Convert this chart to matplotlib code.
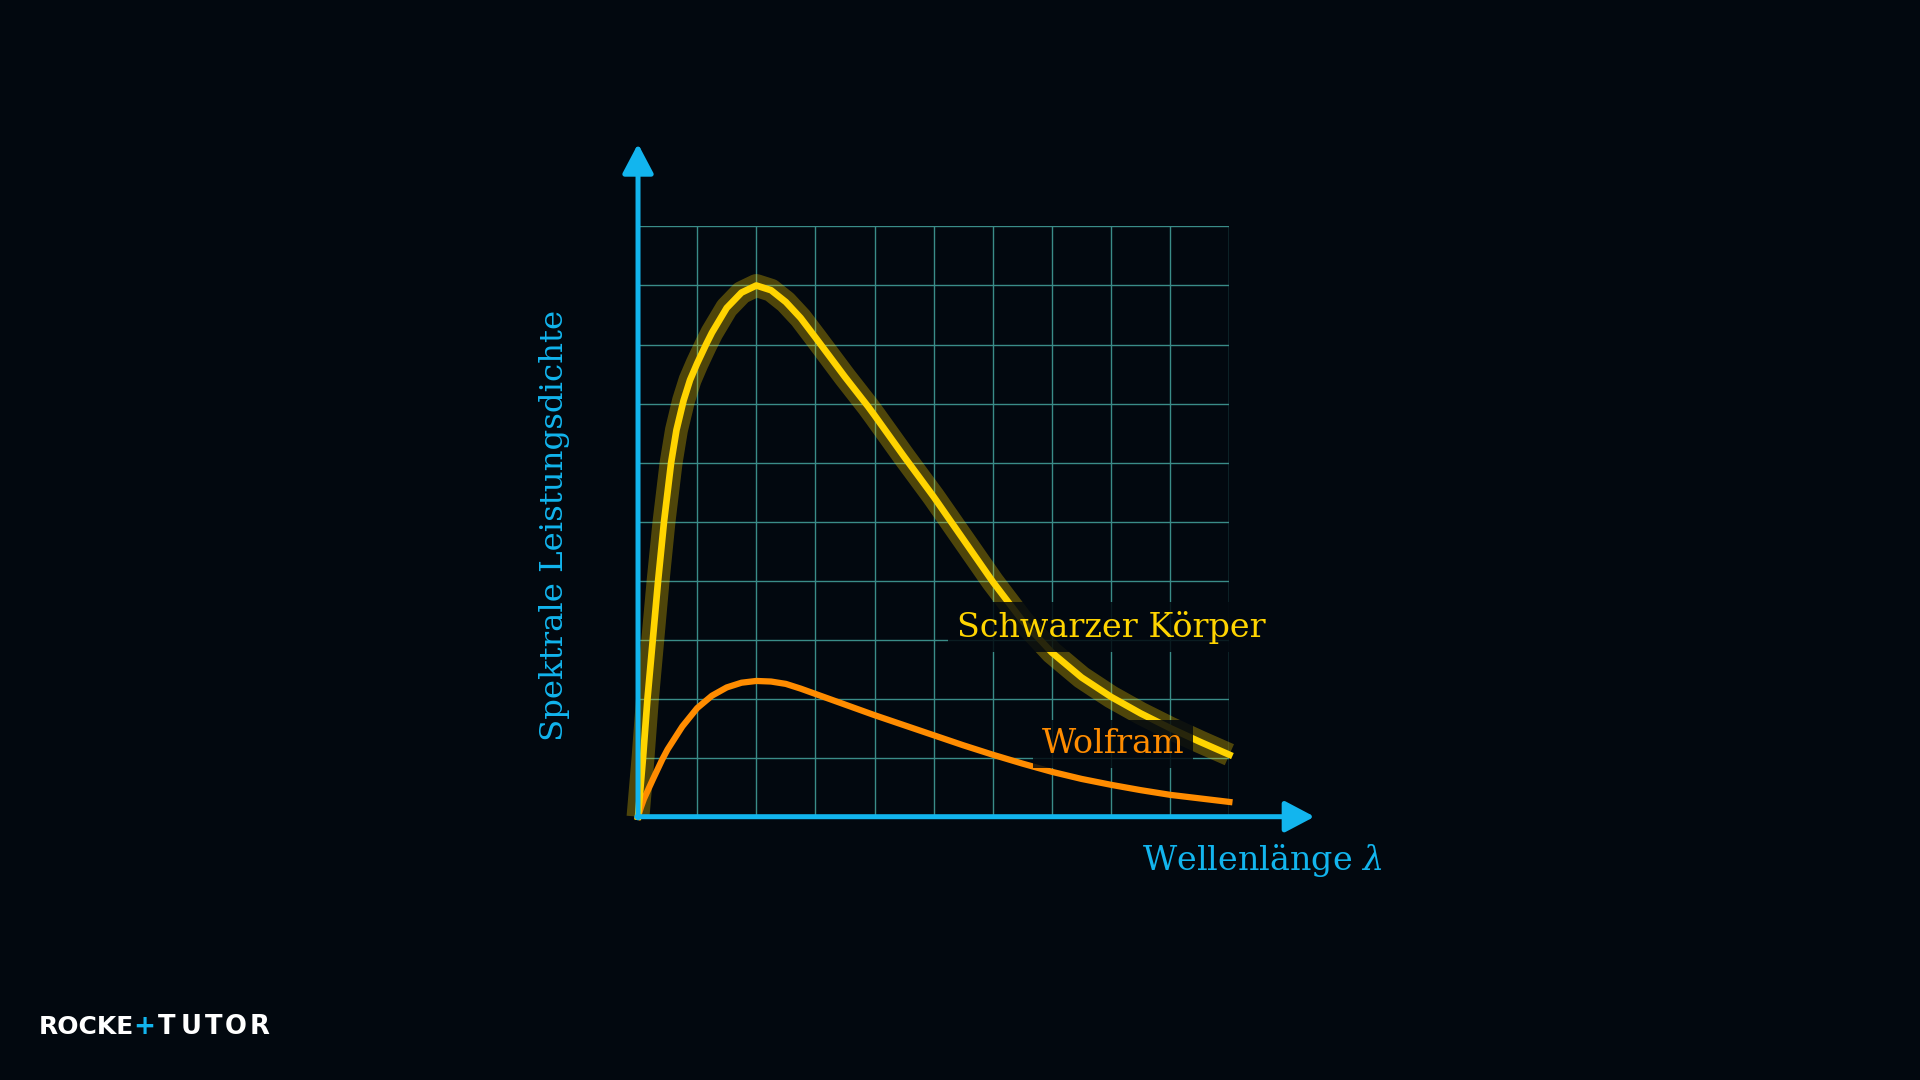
import numpy as np
import matplotlib.pyplot as plt

plt.rcParams['mathtext.fontset'] = 'dejavuserif'

# Farben
bg = '#02080f'
blue = '#12b5ee'
yellow = '#ffd400'
orange = '#ff8c00'
grid_col = '#3a8c88'

# Kurven in Gitter-Einheiten
lam_bb = [0, 0.085, 0.16, 0.25, 0.34, 0.44, 0.56, 0.65, 0.77, 0.88, 1.0, 1.15, 1.25,
          1.5, 1.75, 2.0, 2.25, 2.5, 2.75, 3.0, 3.5, 3.89, 4.0, 4.5, 5.0, 5.5, 6.0, 6.5,
          7.0, 7.5, 8.0, 8.5, 9.0, 9.5, 10.0]
val_bb = [0, 1, 2, 3, 4, 5, 6, 6.55, 7.05, 7.4, 7.68, 8.0, 8.2,
          8.62, 8.88, 9.0, 8.92, 8.72, 8.45, 8.12, 7.45, 6.95, 6.8, 6.1, 5.42, 4.7, 3.98, 3.32,
          2.78, 2.36, 2.03, 1.75, 1.5, 1.27, 1.05]

lam_w = [0, 0.05, 0.1, 0.25, 0.41, 0.5, 0.75, 1.0, 1.25, 1.5, 1.75, 2.0, 2.25, 2.5,
         2.75, 3.0, 3.5, 4.0, 4.5, 5.0, 5.5, 6.0, 6.5, 7.0, 7.5, 8.0, 8.5, 9.0, 9.5, 10.0]
val_w = [0, 0.16, 0.3, 0.63, 0.97, 1.14, 1.53, 1.84, 2.05, 2.19, 2.27, 2.3, 2.29, 2.25,
         2.17, 2.08, 1.9, 1.72, 1.55, 1.38, 1.21, 1.05, 0.9, 0.76, 0.64, 0.54, 0.45, 0.37,
         0.31, 0.25]

grid_ticks = list(range(0, 11))

fig = plt.figure(figsize=(19.2, 10.8), dpi=100, facecolor=bg)
ax = fig.add_axes([0.3323, 0.2438, 0.308, 0.5465])
ax.set_facecolor(bg)
ax.set_xlim(0, 10)
ax.set_ylim(0, 10)
for s in ax.spines.values():
    s.set_visible(False)
ax.set_xticks([])
ax.set_yticks([])

# Gitter
for g in grid_ticks:
    ax.plot([g, g], [0, 10], color=grid_col, lw=1.0, zorder=1)
    ax.plot([0, 10], [g, g], color=grid_col, lw=1.0, zorder=1)

# Kurven
ax.plot(lam_bb, val_bb, color=yellow, lw=16.5, alpha=0.3, solid_capstyle='butt',
        solid_joinstyle='round', zorder=3, clip_on=False)
ax.plot(lam_w, val_w, color=orange, lw=4.5, solid_joinstyle='round', zorder=4, clip_on=False)
ax.plot(lam_bb, val_bb, color=yellow, lw=4.8, solid_joinstyle='round', zorder=5, clip_on=False)

# Achsenpfeile
arrow = dict(arrowstyle='-|>,head_length=18,head_width=9.5', color=blue, lw=3.6,
             mutation_scale=1, shrinkA=0, shrinkB=0)
ax.annotate('', xy=(0, 11.4), xytext=(0, -0.02), arrowprops=arrow, annotation_clip=False, zorder=6)
ax.annotate('', xy=(11.44, 0), xytext=(-0.02, 0), arrowprops=arrow, annotation_clip=False, zorder=6)

font = 'DejaVu Serif'
box = dict(facecolor=bg, edgecolor='none', alpha=0.85, boxstyle='square,pad=0.25')
ax.text(8.0, 3.05, 'Schwarzer Körper', color=yellow, fontsize=24, family=font,
        ha='center', va='baseline', bbox=box, zorder=7)
ax.text(8.03, 1.08, 'Wolfram', color=orange, fontsize=24, family=font,
        ha='center', va='baseline', bbox=box, zorder=7)

ax.text(10.55, -0.9, r'Wellenlänge $\lambda$', color=blue, fontsize=24, family=font,
        ha='center', va='baseline', clip_on=False)
ax.text(-1.27, 4.94, 'Spektrale Leistungsdichte', color=blue, fontsize=23.3, family=font,
        rotation=90, rotation_mode='anchor', ha='center', va='baseline', clip_on=False)

# Logo
logo_y = 0.049
fig.text(0.0203, logo_y, 'ROCKE', color='white', fontsize=18, family='DejaVu Sans',
         weight='bold', ha='left', va='center')
fig.text(0.0750, logo_y, '+', color=blue, fontsize=19, family='DejaVu Sans',
         weight='bold', ha='center', va='center')
tutor = ['T', 'U', 'T', 'O', 'R']
tutor_x = [0.0867, 0.0995, 0.1115, 0.1228, 0.1352]
for ch, xp in zip(tutor, tutor_x):
    fig.text(xp, logo_y, ch, color='white', fontsize=18.5,
             family='DejaVu Sans', weight='bold', ha='center', va='center')

fig.savefig('out.png', dpi=100, facecolor=bg)
